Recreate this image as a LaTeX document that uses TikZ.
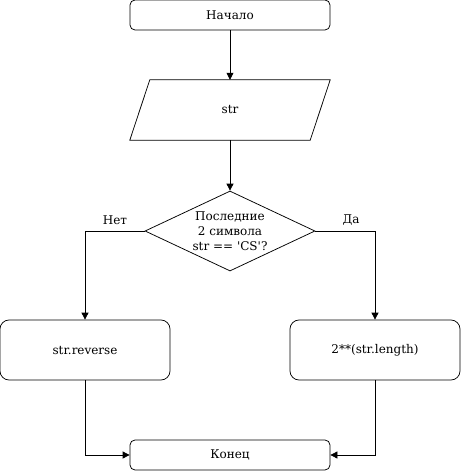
\documentclass[tikz,border=0pt]{standalone}
\usepackage{fontspec}
\setmainfont{DejaVu Serif}
\usetikzlibrary{shapes.geometric,arrows.meta}
\begin{document}
\begin{tikzpicture}[x=1pt,y=-1pt,
  every node/.style={font=\fontsize{12}{15}\selectfont, inner sep=0pt},
  term/.style={draw, line width=0.75pt, rounded corners=5pt, minimum width=200pt, minimum height=30pt},
  proc/.style={draw, line width=0.75pt, rounded corners=9pt, minimum width=170pt, minimum height=60pt},
  decis/.style={draw, line width=0.75pt, diamond, minimum width=170pt, minimum height=80pt, aspect=2.125, align=center},
  inbox/.style={minimum width=200pt, minimum height=60pt},
  conn/.style={-{Triangle[length=7pt,width=7pt]}, line width=0.75pt},
  lbl/.style={font=\fontsize{12}{14}\selectfont}
]
\useasboundingbox (0,0) rectangle (461,471);
\node[term] (start) at (230,15) {Начало};
\node[inbox] (inp) at (230,110) {str};
\draw[line width=0.75pt] ([xshift=20pt]inp.north west) -- (inp.north east) -- ([xshift=-20pt]inp.south east) -- (inp.south west) -- cycle;
\node[decis] (dec) at (230,231) {Последние\\2 символа\\str == \textquotesingle CS\textquotesingle?};
\node[proc] (left) at (85,350) {str.reverse};
\node[proc] (right) at (375,350) {2**(str.length)};
\node[term] (end) at (230,455) {Конец};
\coordinate (lc) at (85,231);
\coordinate (rc) at (375,231);
\coordinate (lb) at (85,455);
\coordinate (rb) at (375,455);
\draw[conn] (start.south) -- (inp.north);
\draw[conn] (inp.south) -- (dec.north);
\draw[conn] (dec.west) -- (lc) -- (left.north);
\draw[conn] (dec.east) -- (rc) -- (right.north);
\draw[conn] (left.south) -- (lb) -- (end.west);
\draw[conn] (right.south) -- (rb) -- (end.east);
\node[lbl] (no) at (115,220) {Нет};
\node[lbl] (yes) at (351,220) {Да};
\end{tikzpicture}
\end{document}
